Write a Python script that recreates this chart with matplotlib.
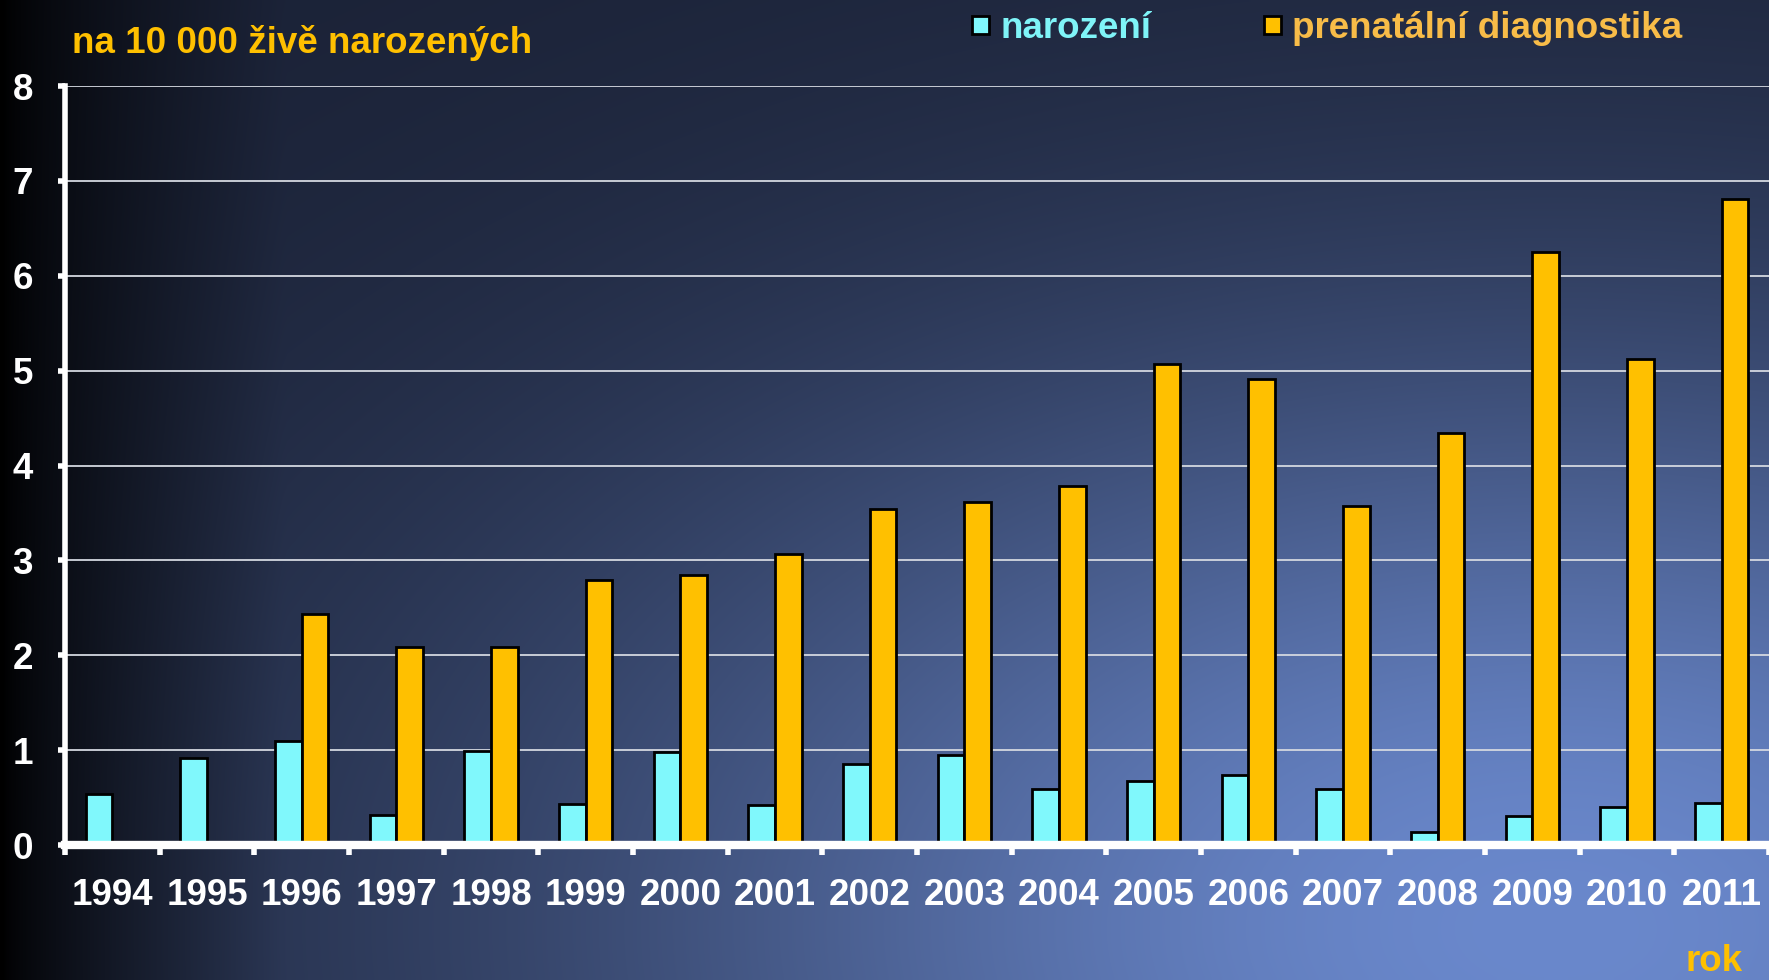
import numpy as np
import matplotlib
matplotlib.use("Agg")
import matplotlib.pyplot as plt
from matplotlib.patches import Rectangle

plt.rcParams['font.family'] = ['Liberation Sans', 'DejaVu Sans']
plt.rcParams['font.weight'] = 'bold'

# data (per 10 000 live births)
roky = ['1994', '1995', '1996', '1997', '1998', '1999', '2000', '2001', '2002',
        '2003', '2004', '2005', '2006', '2007', '2008', '2009', '2010', '2011']
narozeni = [0.54, 0.92, 1.10, 0.32, 0.99, 0.43, 0.98, 0.42, 0.85,
            0.95, 0.59, 0.67, 0.74, 0.59, 0.14, 0.31, 0.40, 0.44]
prenatalni = [np.nan, np.nan, 2.43, 2.09, 2.09, 2.79, 2.85, 3.07, 3.54,
              3.62, 3.78, 5.07, 4.91, 3.57, 4.34, 6.25, 5.12, 6.81]
yticks = [0, 1, 2, 3, 4, 5, 6, 7, 8]

W, H = 1769, 980
fig = plt.figure(figsize=(W / 100, H / 100), dpi=100)

# background gradient (dark navy, light blue glow bottom right, black left edge)
bg = fig.add_axes([0, 0, 1, 1], zorder=0)
u = np.linspace(0, 1, 354)[None, :]
v = np.linspace(0, 1, 196)[:, None]          # v from top
dark = np.array([26, 33, 53]) / 255
light = np.array([106, 136, 204]) / 255
r2 = ((u - 0.88) / 0.58) ** 2 + ((v - 0.95) / 0.62) ** 2
g = np.exp(-r2)[..., None]
img = dark + (light - dark) * g
left = np.clip(u / 0.16, 0, 1) ** 0.7
img = img * left[..., None]
bg.imshow(img, aspect='auto', extent=[0, 1, 0, 1], origin='upper', interpolation='bilinear')
bg.set_axis_off()

ax = fig.add_axes([65 / W, 1 - 845 / H, 1 - 65 / W, (845 - 86) / H], zorder=1)
ax.set_facecolor('none')

x = np.arange(len(roky))
w = 0.28
cyan = '#80f8fc'
orange = '#ffc000'
ax.bar(x - w / 2, narozeni, w, color=cyan, edgecolor='black', linewidth=2, zorder=3)
pren = np.array(prenatalni)
m = ~np.isnan(pren)
ax.bar(x[m] + w / 2, pren[m], w, color=orange, edgecolor='black', linewidth=2, zorder=3)

ax.set_xlim(-0.5, len(roky) - 0.5)
ax.set_ylim(0, 8)
ax.set_yticks(yticks)
ax.set_yticklabels([str(t) for t in yticks])
ax.yaxis.grid(True, color='#d4d8e0', linewidth=1.3, zorder=1)
ax.set_axisbelow(True)

ax.set_xticks(np.arange(-0.5, len(roky), 1.0))
ax.set_xticklabels([])
ax.set_xticks(x, minor=True)
ax.set_xticklabels(roky, minor=True)
ax.tick_params(axis='x', which='major', direction='out', length=7, width=4, color='white')
ax.tick_params(axis='x', which='minor', length=0, pad=24, labelsize=26.5, labelcolor='white')
ax.tick_params(axis='y', direction='out', length=5, width=4, color='white',
               pad=18, labelsize=26.5, labelcolor='white')

for s in ['top', 'right']:
    ax.spines[s].set_visible(False)
ax.spines['left'].set_color('white')
ax.spines['left'].set_linewidth(4)
ax.spines['bottom'].set_color('white')
ax.spines['bottom'].set_linewidth(6)
ax.spines['bottom'].set_zorder(4)

fig.text(72 / W, 1 - 43 / H, 'na 10 000 živě narozených', color='#ffc000',
         fontsize=26.5, fontweight='bold', va='center', ha='left')

# legend
fig.patches.append(Rectangle((972 / W, 1 - 34 / H), 17 / W, 18 / H, transform=fig.transFigure,
                             facecolor=cyan, edgecolor='black', linewidth=2, zorder=5))
fig.text(1000 / W, 1 - 28 / H, 'narození', color='#7ff4f8', fontsize=26.5,
         fontweight='bold', va='center', ha='left')
fig.patches.append(Rectangle((1264 / W, 1 - 34 / H), 17 / W, 18 / H, transform=fig.transFigure,
                             facecolor=orange, edgecolor='black', linewidth=2, zorder=5))
fig.text(1292 / W, 1 - 28 / H, 'prenatální diagnostika', color='#f8bc48', fontsize=26.5,
         fontweight='bold', va='center', ha='left')

fig.text(1743 / W, 1 / H, 'rok', color='#ffc000', fontsize=26.5, fontweight='bold',
         va='bottom', ha='right')

fig.savefig('out.png', dpi=100)
